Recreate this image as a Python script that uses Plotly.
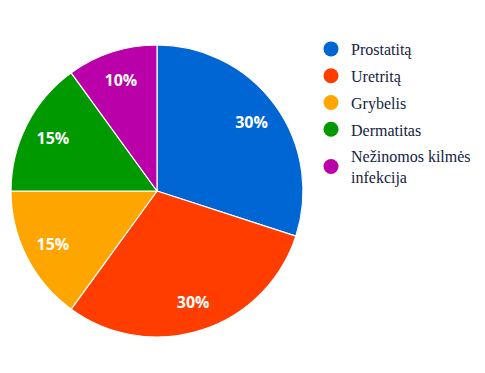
import plotly.graph_objects as go

labels = ["Prostatitą", "Uretritą", "Grybelis", "Dermatitas", "Nežinomos kilmės<br>infekcija"]
values = [30, 30, 15, 15, 10]
colors = ["#0066D3", "#FF3D00", "#FFA500", "#009A00", "#BA00A8"]

W, H = 485, 373
# page coordinates (the page body has an 8px offset)
cx, cy, r = 149, 183, 146
dom = dict(x=[(cx - r) / W, (cx + r) / W], y=[(H - cy - r) / H, (H - cy + r) / H])

fig = go.Figure()
fig.add_trace(go.Pie(
    labels=labels, values=values, sort=False, direction="clockwise", rotation=0,
    marker=dict(colors=colors, line=dict(color="white", width=1.2)),
    textinfo="none", showlegend=False, hoverinfo="label+percent", domain=dom,
))
# transparent ring used only to place the percentage labels further out
fig.add_trace(go.Pie(
    labels=labels, values=values, sort=False, direction="clockwise", rotation=0, hole=0.6,
    marker=dict(colors=["rgba(0,0,0,0)"] * len(values), line=dict(width=0)),
    texttemplate="%{percent:.0%}", textposition="inside", insidetextorientation="horizontal",
    textfont=dict(family="Open Sans", size=16, color="white", weight="bold"),
    showlegend=False, hoverinfo="skip", domain=dom,
))
for lab, col in zip(labels, colors):
    fig.add_trace(go.Scatter(
        x=[None], y=[None], mode="markers", name=lab,
        marker=dict(symbol="circle", size=15, color=col), legendgroup=lab,
    ))

fig.update_layout(
    width=W, height=H, margin=dict(l=0, r=0, t=0, b=0),
    paper_bgcolor="white", plot_bgcolor="white",
    xaxis=dict(visible=False), yaxis=dict(visible=False),
    legend=dict(x=303 / W, y=1 - 24 / H, xanchor="left", yanchor="top",
                font=dict(family="Liberation Serif", size=16, color="#13233F"),
                tracegroupgap=3, itemwidth=30, bgcolor="rgba(0,0,0,0)"),
)
fig.write_html("out.html")
